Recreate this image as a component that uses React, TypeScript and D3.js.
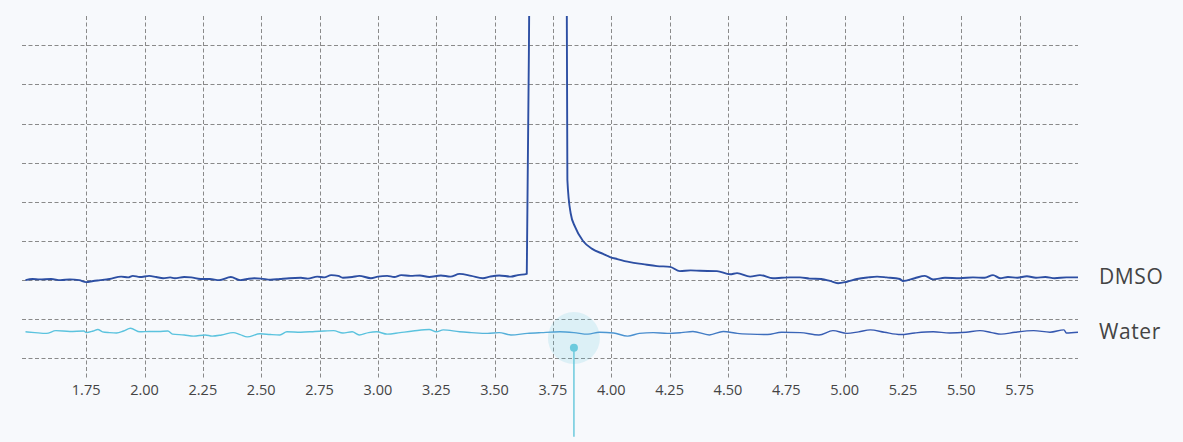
import React from 'react';
import * as d3 from 'd3';

const W = 1183;
const H = 442;

const xTicks = [1.75, 2.0, 2.25, 2.5, 2.75, 3.0, 3.25, 3.5, 3.75, 4.0, 4.25, 4.5, 4.75, 5.0, 5.25, 5.5, 5.75];
const yGridValues = [0, 1, 2, 3, 4, 5, 6, 7, 8];
const xDomain = [1.475, 6.0];
const yDomain = [-0.5, 8.75];

const seriesNames = ['DMSO', 'Water'];

const dmso: [number, number][] = [
  [1.49, 2.0], [1.52, 2.03], [1.55, 2.02], [1.6, 2.03], [1.64, 2.0], [1.68, 2.02], [1.72, 2.0], [1.75, 1.95],
  [1.78, 1.98], [1.81, 2.0], [1.85, 2.03], [1.9, 2.09], [1.93, 2.07], [1.95, 2.11], [1.98, 2.08], [2.02, 2.11],
  [2.05, 2.08], [2.08, 2.05], [2.11, 2.07], [2.13, 2.05], [2.17, 2.08], [2.2, 2.07], [2.24, 2.03], [2.28, 2.03],
  [2.32, 2.0], [2.37, 2.08], [2.41, 2.0], [2.44, 2.03], [2.47, 2.05], [2.5, 2.04], [2.54, 2.01], [2.58, 2.03],
  [2.62, 2.05], [2.67, 2.06], [2.7, 2.04], [2.74, 2.09], [2.77, 2.07], [2.8, 2.13], [2.83, 2.11], [2.85, 2.06],
  [2.89, 2.08], [2.92, 2.11], [2.97, 2.05], [3.0, 2.09], [3.04, 2.11], [3.07, 2.08], [3.1, 2.13], [3.14, 2.11],
  [3.18, 2.12], [3.22, 2.08], [3.27, 2.12], [3.31, 2.09], [3.35, 2.16], [3.4, 2.11], [3.45, 2.05], [3.48, 2.09],
  [3.52, 2.12], [3.57, 2.09], [3.6, 2.13], [3.638, 2.16],
  [3.652, 12], [3.7, 35], [3.76, 38], [3.808, 12],
  [3.812, 4.56], [3.826, 3.71], [3.845, 3.36], [3.879, 3.0], [3.918, 2.8], [3.965, 2.67], [3.995, 2.59],
  [4.025, 2.54], [4.08, 2.46], [4.136, 2.41], [4.196, 2.36], [4.252, 2.34], [4.294, 2.23], [4.34, 2.25],
  [4.38, 2.24], [4.453, 2.23], [4.509, 2.15], [4.539, 2.18], [4.595, 2.09], [4.637, 2.13], [4.693, 2.05],
  [4.73, 2.06], [4.766, 2.07], [4.809, 2.07], [4.85, 2.04], [4.9, 2.03], [4.937, 1.98], [4.972, 1.92],
  [5.01, 1.96], [5.053, 2.03], [5.1, 2.07], [5.139, 2.09], [5.18, 2.07], [5.237, 2.03], [5.25, 1.98],
  [5.3, 2.05], [5.344, 2.11], [5.379, 2.02], [5.43, 2.06], [5.494, 2.05], [5.55, 2.07], [5.6, 2.06],
  [5.636, 2.13], [5.666, 2.05], [5.7, 2.08], [5.74, 2.06], [5.781, 2.1], [5.82, 2.06], [5.86, 2.08],
  [5.9, 2.05], [5.95, 2.07], [6.0, 2.07],
];

const water: [number, number][] = [
  [1.49, 0.68], [1.53, 0.66], [1.58, 0.64], [1.62, 0.71], [1.68, 0.69], [1.74, 0.7], [1.75, 0.66], [1.78, 0.7],
  [1.8, 0.74], [1.82, 0.68], [1.85, 0.66], [1.88, 0.65], [1.91, 0.7], [1.94, 0.77], [1.98, 0.68], [2.02, 0.69],
  [2.06, 0.69], [2.1, 0.7], [2.12, 0.62], [2.17, 0.6], [2.21, 0.57], [2.26, 0.6], [2.29, 0.57], [2.33, 0.6],
  [2.38, 0.66], [2.41, 0.61], [2.44, 0.55], [2.495, 0.63], [2.54, 0.61], [2.58, 0.6], [2.61, 0.68], [2.67, 0.67],
  [2.73, 0.69], [2.77, 0.7], [2.81, 0.71], [2.85, 0.65], [2.89, 0.68], [2.92, 0.6], [2.96, 0.66], [2.995, 0.68],
  [3.04, 0.62], [3.095, 0.66], [3.15, 0.7], [3.22, 0.74], [3.25, 0.68], [3.28, 0.73], [3.35, 0.68], [3.4, 0.66],
  [3.47, 0.64], [3.52, 0.66], [3.57, 0.6], [3.64, 0.64], [3.7, 0.66], [3.78, 0.68], [3.84, 0.66], [3.9, 0.62],
  [3.95, 0.67], [4.01, 0.65], [4.07, 0.57], [4.12, 0.64], [4.18, 0.66], [4.24, 0.64], [4.3, 0.66], [4.35, 0.69],
  [4.42, 0.6], [4.48, 0.69], [4.54, 0.64], [4.595, 0.62], [4.67, 0.61], [4.73, 0.67], [4.81, 0.66], [4.89, 0.6],
  [4.95, 0.71], [5.01, 0.64], [5.06, 0.68], [5.11, 0.73], [5.17, 0.67], [5.24, 0.61], [5.3, 0.65], [5.38, 0.68],
  [5.45, 0.65], [5.52, 0.67], [5.58, 0.71], [5.63, 0.66], [5.67, 0.62], [5.73, 0.67], [5.81, 0.71], [5.88, 0.67],
  [5.94, 0.73], [5.95, 0.65], [6.0, 0.67],
];

const marker = { x: 3.84, y: 0.27, haloY: 0.52, stemEnd: -2.0 };

const plot = { left: 22, right: 1078, top: 16, bottom: 378 };

export default function App() {
  const x = d3.scaleLinear().domain(xDomain).range([plot.left, plot.right]);
  const y = d3.scaleLinear().domain(yDomain).range([plot.bottom, plot.top]);
  const line = d3
    .line<[number, number]>()
    .x((d) => x(d[0]))
    .y((d) => y(d[1]))
    .curve(d3.curveMonotoneX);

  const fmt = d3.format('.2f');
  const font = '"Open Sans", "Noto Sans", sans-serif';
  const series = [dmso, water];

  return (
    <svg
      width={W}
      height={H}
      style={{ position: 'absolute', left: 0, top: 0, display: 'block' }}
    >
      <defs>
        <clipPath id="plotClip">
          <rect x={plot.left} y={plot.top} width={plot.right - plot.left + 4} height={plot.bottom - plot.top} />
        </clipPath>
        <linearGradient id="waterGrad" gradientUnits="userSpaceOnUse" x1={x(3.2)} y1={0} x2={x(5.0)} y2={0}>
          <stop offset="0" stopColor="#5bc3de" />
          <stop offset="0.5" stopColor="#4a90d0" />
          <stop offset="1" stopColor="#3558b0" />
        </linearGradient>
      </defs>
      <rect x={0} y={0} width={W} height={H} fill="#f7f9fc" />

      {yGridValues.map((v) => (
        <line
          key={'h' + v}
          x1={plot.left}
          x2={plot.right}
          y1={Math.round(y(v)) + 0.5}
          y2={Math.round(y(v)) + 0.5}
          stroke="#8a8a8a"
          strokeWidth={1}
          strokeDasharray="4,2.5"
        />
      ))}
      {xTicks.map((v) => (
        <line
          key={'v' + v}
          x1={Math.round(x(v)) + 0.5}
          x2={Math.round(x(v)) + 0.5}
          y1={plot.top}
          y2={plot.bottom}
          stroke="#8a8a8a"
          strokeWidth={1}
          strokeDasharray="4,2.5"
        />
      ))}
      {xTicks.map((v) => (
        <text
          key={'t' + v}
          x={x(v)}
          y={plot.bottom + 17}
          textAnchor="middle"
          fontFamily={font}
          fontSize={14.5}
          fill="#444"
        >
          {fmt(v)}
        </text>
      ))}

      <circle cx={x(marker.x)} cy={y(marker.haloY)} r={26} fill="#5bc3de" fillOpacity={0.17} />

      <g clipPath="url(#plotClip)">
        <path d={line(water) || ''} fill="none" stroke="url(#waterGrad)" strokeWidth={1.4} strokeLinejoin="round" />
        <path d={line(dmso) || ''} fill="none" stroke="#2d4fa3" strokeWidth={1.9} strokeLinejoin="round" />
      </g>

      <line
        x1={x(marker.x)}
        x2={x(marker.x)}
        y1={y(marker.y)}
        y2={y(marker.stemEnd)}
        stroke="#6ccadd"
        strokeWidth={1.5}
      />
      <circle cx={x(marker.x)} cy={y(marker.y)} r={4} fill="#6ccadd" />

      {series.map((s, i) => {
        const last = s[s.length - 1];
        return (
          <text
            key={seriesNames[i]}
            x={x(last[0]) + 21}
            y={y(last[1]) + 7}
            fontFamily={font}
            fontSize={21}
            letterSpacing={0.6}
            fill="#444"
          >
            {seriesNames[i]}
          </text>
        );
      })}
    </svg>
  );
}
